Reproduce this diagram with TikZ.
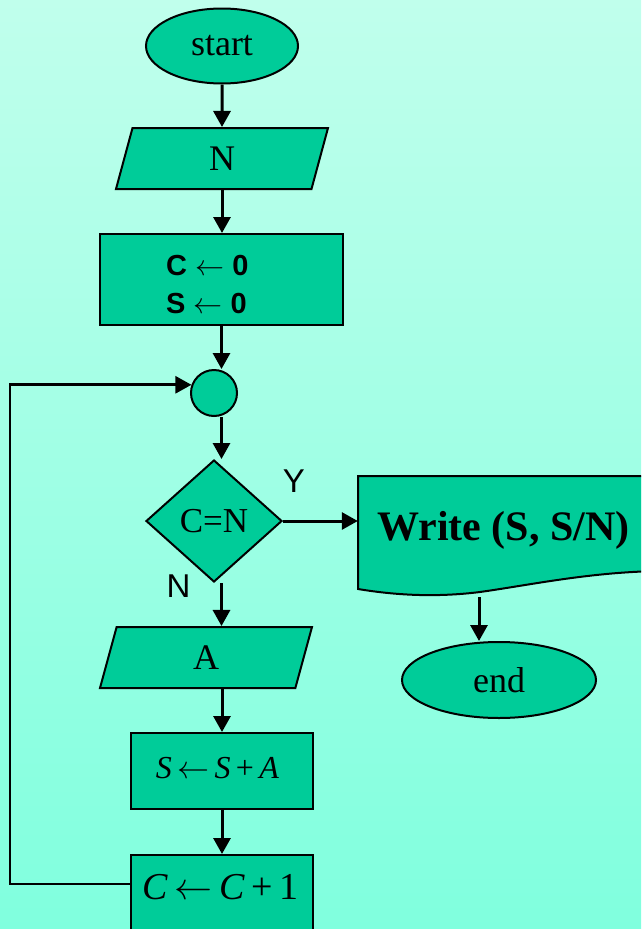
\RequirePackage{fix-cm}
\documentclass[tikz,border=0pt]{standalone}
\usepackage{fontspec}
\setmainfont{Liberation Serif}
\newfontfamily\arialfont{Liberation Sans}
\usetikzlibrary{shapes.geometric,arrows.meta}

\definecolor{boxfill}{RGB}{0,204,153}
\definecolor{bgtop}{RGB}{192,255,236}
\definecolor{bgbot}{RGB}{128,255,222}

% thin long assignment arrow
\newcommand{\assignarrow}{\ensuremath{\leftarrow}}

\begin{document}
\begin{tikzpicture}[x=1pt,y=-1pt,
  shapebox/.style={draw=black, line width=2pt, fill=boxfill, inner sep=0pt},
  termbox/.style={shapebox, ellipse, font=\fontsize{36}{40}\selectfont},
  iobox/.style={shapebox, trapezium, trapezium left angle=55, trapezium right angle=125,
    trapezium stretches body, minimum height=61pt, minimum width=212pt,
    font=\fontsize{36}{40}\selectfont},
  procbox/.style={shapebox, rectangle},
  arr/.style={line width=3pt, -{Triangle[length=16pt,width=17pt]}},
  looparr/.style={line width=2.6pt, -{Triangle[length=16pt,width=17pt]}},
  lbl/.style={inner sep=0pt, anchor=base},
  sanslbl/.style={lbl, font=\arialfont\fontsize{33}{36}\selectfont},
]
\useasboundingbox (0,0) rectangle (641,929);
\clip (0,0) rectangle (641,929);
\fill[top color=bgtop, bottom color=bgbot] (0,0) rectangle (641,929);

% terminals, input and initialisation
\node[termbox, minimum width=152pt, minimum height=75pt] (start) at (222,46) {start};
\node[iobox] (inN) at (222,158.5) {N};
\node[procbox, minimum width=243pt, minimum height=91pt] (init) at (221.5,279.5) {};
\node[lbl, anchor=base west, font=\arialfont\bfseries\fontsize{29}{34}\selectfont] (c0) at (166,275) {C \assignarrow{} 0};
\node[lbl, anchor=base west, font=\arialfont\bfseries\fontsize{29}{34}\selectfont] (s0) at (166,313) {S \assignarrow{} 0};

% loop junction and test
\node[shapebox, circle, minimum size=46pt] (join) at (214,393) {};
\node[shapebox, diamond, minimum width=136pt, minimum height=122pt, font=\fontsize{35}{40}\selectfont] (test) at (214,521) {C=N};
\node[sanslbl] (ylab) at (294,492) {Y};
\node[sanslbl] (nlab) at (178.5,597) {N};

% output document
\node[inner sep=0pt, minimum width=294pt, minimum height=113pt] (doc) at (505,532.5) {};
\draw[shapebox] (358,589) -- (358,476) -- (660,476) -- (660,571)
  .. controls (590,572) and (530,585) .. (480,592)
  .. controls (440,597) and (400,596) .. (358,589) -- cycle;
\node[lbl, font=\bfseries\fontsize{42}{46}\selectfont] (wr) at (503.5,540) {Write (S, S/N)};
\node[termbox, minimum width=194pt, minimum height=76pt] (fin) at (499,680) {end};

% loop body
\node[iobox] (inA) at (206,657.5) {A};
\node[procbox, minimum width=182pt, minimum height=76pt] (sum) at (222,771) {};
\node[lbl, font=\fontsize{32}{36}\selectfont] (sumt) at (217.5,778) {\textit{S}\,\assignarrow\,\textit{S}\,+\,\textit{A}};
\node[procbox, minimum width=182pt, minimum height=80pt] (cnt) at (222,895) {};
\node[lbl, font=\fontsize{38}{42}\selectfont] (cntt) at (220.5,899) {\textit{C}\,\assignarrow\,\textit{C}\,+\,1};

% connectors
\coordinate (lb) at (10,884);
\coordinate (dbot) at (479,597);
\draw[arr] (start) -- (inN);
\draw[arr] (inN.south) -- (inN.south |- init.north);
\draw[arr] (init.south) -- (init.south |- join.north);
\draw[arr] (join.south -| init.south) -- (test.north -| init.south);
\draw[arr] (test.east) -- (doc.west |- test.east);
\draw[arr] (dbot) -- (dbot |- fin.north);
\draw[arr] (test.south -| init.south) -- (inA.north -| init.south);
\draw[arr] (inA.south -| sum.north) -- (sum.north);
\draw[arr] (sum) -- (cnt);
\draw[looparr] (cnt.west |- lb) -- (lb) |- (join.160);
\end{tikzpicture}
\end{document}
